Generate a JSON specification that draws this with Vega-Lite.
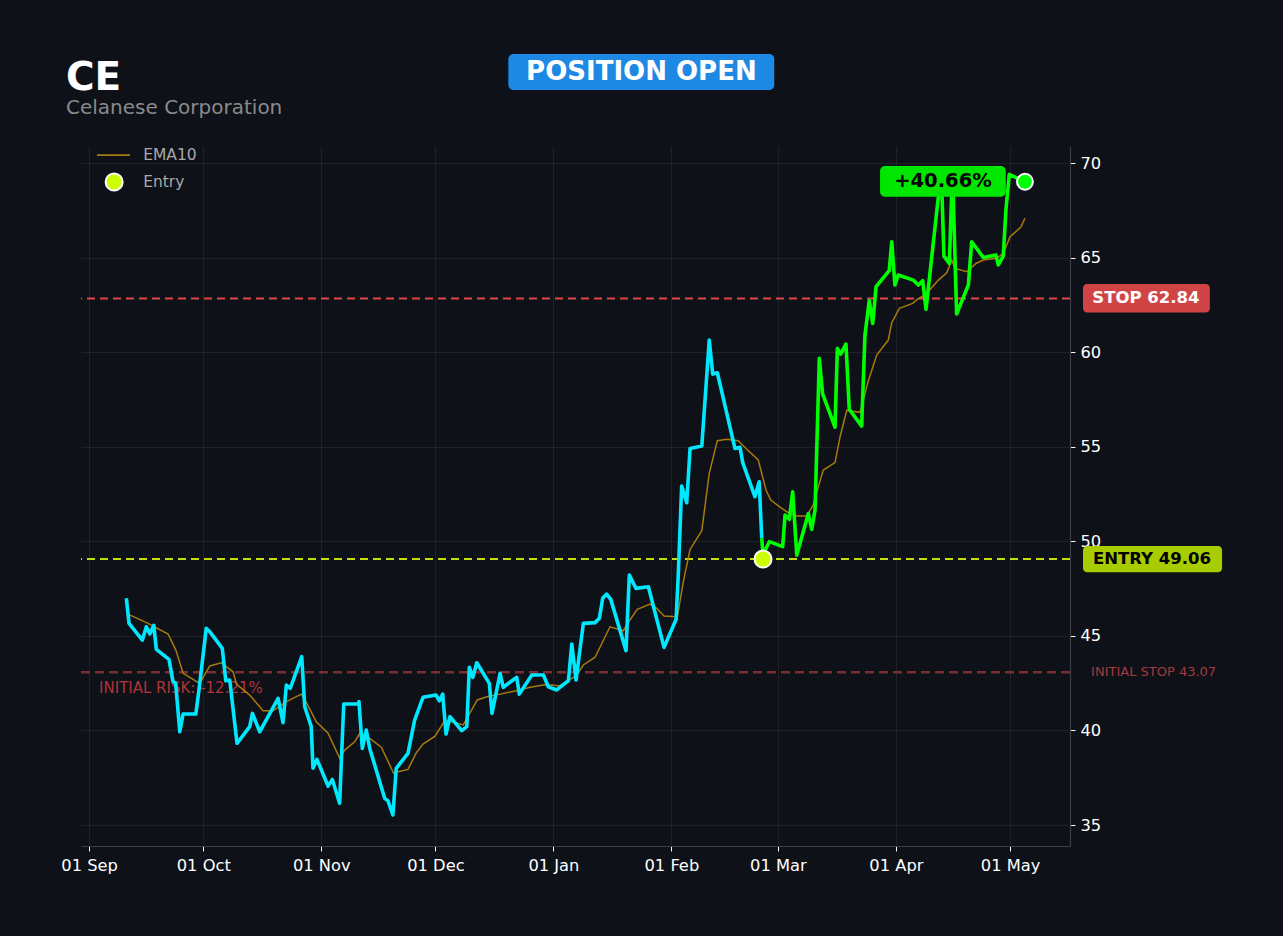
{
  "$schema": "https://vega.github.io/schema/vega-lite/v6.json",
  "autosize": {"type": "none"},
  "width": 989,
  "height": 700,
  "padding": {"left": 81, "top": 146, "right": 213, "bottom": 90},
  "background": "#0e1117",
  "title": {
    "text": "CE",
    "subtitle": "Celanese Corporation",
    "anchor": "start",
    "frame": "group",
    "font": "DejaVu Sans",
    "fontSize": 39,
    "fontWeight": "bold",
    "color": "#ffffff",
    "subtitleFont": "DejaVu Sans",
    "subtitleFontSize": 20,
    "subtitleColor": "#8a8a8a",
    "subtitlePadding": 0,
    "dx": -15,
    "dy": 94,
    "offset": 30
  },
  "resolve": {"axis": {"x": "independent", "y": "independent"}},
  "config": {
    "view": {"stroke": null},
    "font": "DejaVu Sans",
    "axis": {
      "labelFont": "DejaVu Sans",
      "labelColor": "#ffffff",
      "labelFontSize": 16.3,
      "tickColor": "#ffffff",
      "tickSize": 5,
      "gridColor": "#ffffff",
      "gridOpacity": 0.07,
      "domainColor": "#3b3f47",
      "domainWidth": 1.2
    }
  },
  "datasets": {
    "price": [
      {"date": "2025-09-10T19:00", "close": 46.99, "phase": "pre"},
      {"date": "2025-09-11T12:00", "close": 45.66, "phase": "pre"},
      {"date": "2025-09-15T00:00", "close": 44.78, "phase": "pre"},
      {"date": "2025-09-16T01:00", "close": 45.48, "phase": "pre"},
      {"date": "2025-09-16T23:00", "close": 45.10, "phase": "pre"},
      {"date": "2025-09-18T00:00", "close": 45.56, "phase": "pre"},
      {"date": "2025-09-18T16:00", "close": 44.29, "phase": "pre"},
      {"date": "2025-09-22T00:00", "close": 43.76, "phase": "pre"},
      {"date": "2025-09-23T01:00", "close": 42.58, "phase": "pre"},
      {"date": "2025-09-23T18:00", "close": 42.49, "phase": "pre"},
      {"date": "2025-09-24T20:00", "close": 39.93, "phase": "pre"},
      {"date": "2025-09-25T17:00", "close": 40.87, "phase": "pre"},
      {"date": "2025-09-29T01:00", "close": 40.87, "phase": "pre"},
      {"date": "2025-09-29T21:00", "close": 42.14, "phase": "pre"},
      {"date": "2025-10-01T19:00", "close": 45.40, "phase": "pre"},
      {"date": "2025-10-02T17:00", "close": 45.22, "phase": "pre"},
      {"date": "2025-10-06T00:00", "close": 44.34, "phase": "pre"},
      {"date": "2025-10-06T22:00", "close": 42.63, "phase": "pre"},
      {"date": "2025-10-07T23:00", "close": 42.66, "phase": "pre"},
      {"date": "2025-10-09T21:00", "close": 39.32, "phase": "pre"},
      {"date": "2025-10-13T05:00", "close": 40.20, "phase": "pre"},
      {"date": "2025-10-13T22:00", "close": 40.90, "phase": "pre"},
      {"date": "2025-10-15T20:00", "close": 39.93, "phase": "pre"},
      {"date": "2025-10-20T16:00", "close": 41.70, "phase": "pre"},
      {"date": "2025-10-21T23:00", "close": 40.41, "phase": "pre"},
      {"date": "2025-10-22T20:00", "close": 42.40, "phase": "pre"},
      {"date": "2025-10-23T21:00", "close": 42.23, "phase": "pre"},
      {"date": "2025-10-26T21:00", "close": 43.90, "phase": "pre"},
      {"date": "2025-10-27T16:00", "close": 41.25, "phase": "pre"},
      {"date": "2025-10-29T09:00", "close": 40.20, "phase": "pre"},
      {"date": "2025-10-29T20:00", "close": 38.00, "phase": "pre"},
      {"date": "2025-10-30T21:00", "close": 38.47, "phase": "pre"},
      {"date": "2025-11-02T19:00", "close": 37.06, "phase": "pre"},
      {"date": "2025-11-03T22:00", "close": 37.41, "phase": "pre"},
      {"date": "2025-11-05T20:00", "close": 36.15, "phase": "pre"},
      {"date": "2025-11-06T22:00", "close": 41.40, "phase": "pre"},
      {"date": "2025-11-10T16:00", "close": 41.40, "phase": "pre"},
      {"date": "2025-11-10T22:00", "close": 41.52, "phase": "pre"},
      {"date": "2025-11-11T19:00", "close": 39.05, "phase": "pre"},
      {"date": "2025-11-12T20:00", "close": 40.02, "phase": "pre"},
      {"date": "2025-11-13T18:00", "close": 39.05, "phase": "pre"},
      {"date": "2025-11-17T16:00", "close": 36.41, "phase": "pre"},
      {"date": "2025-11-18T13:00", "close": 36.28, "phase": "pre"},
      {"date": "2025-11-19T20:00", "close": 35.53, "phase": "pre"},
      {"date": "2025-11-20T17:00", "close": 38.00, "phase": "pre"},
      {"date": "2025-11-23T19:00", "close": 38.79, "phase": "pre"},
      {"date": "2025-11-25T13:00", "close": 40.55, "phase": "pre"},
      {"date": "2025-11-27T18:00", "close": 41.75, "phase": "pre"},
      {"date": "2025-12-01T04:00", "close": 41.87, "phase": "pre"},
      {"date": "2025-12-02T01:00", "close": 41.57, "phase": "pre"},
      {"date": "2025-12-02T22:00", "close": 41.92, "phase": "pre"},
      {"date": "2025-12-03T19:00", "close": 39.81, "phase": "pre"},
      {"date": "2025-12-04T20:00", "close": 40.73, "phase": "pre"},
      {"date": "2025-12-07T22:00", "close": 39.99, "phase": "pre"},
      {"date": "2025-12-09T06:00", "close": 40.20, "phase": "pre"},
      {"date": "2025-12-09T22:00", "close": 43.34, "phase": "pre"},
      {"date": "2025-12-10T20:00", "close": 42.81, "phase": "pre"},
      {"date": "2025-12-11T21:00", "close": 43.58, "phase": "pre"},
      {"date": "2025-12-15T04:00", "close": 42.49, "phase": "pre"},
      {"date": "2025-12-15T21:00", "close": 40.90, "phase": "pre"},
      {"date": "2025-12-18T00:00", "close": 43.02, "phase": "pre"},
      {"date": "2025-12-18T20:00", "close": 42.28, "phase": "pre"},
      {"date": "2025-12-22T09:00", "close": 42.81, "phase": "pre"},
      {"date": "2025-12-23T01:00", "close": 41.92, "phase": "pre"},
      {"date": "2025-12-26T08:00", "close": 42.93, "phase": "pre"},
      {"date": "2025-12-29T09:00", "close": 42.93, "phase": "pre"},
      {"date": "2025-12-30T16:00", "close": 42.31, "phase": "pre"},
      {"date": "2026-01-01T21:00", "close": 42.14, "phase": "pre"},
      {"date": "2026-01-04T23:00", "close": 42.63, "phase": "pre"},
      {"date": "2026-01-05T20:00", "close": 44.57, "phase": "pre"},
      {"date": "2026-01-06T23:00", "close": 42.67, "phase": "pre"},
      {"date": "2026-01-08T21:00", "close": 45.66, "phase": "pre"},
      {"date": "2026-01-11T23:00", "close": 45.70, "phase": "pre"},
      {"date": "2026-01-13T02:00", "close": 45.93, "phase": "pre"},
      {"date": "2026-01-13T23:00", "close": 46.99, "phase": "pre"},
      {"date": "2026-01-15T00:00", "close": 47.21, "phase": "pre"},
      {"date": "2026-01-16T02:00", "close": 46.93, "phase": "pre"},
      {"date": "2026-01-20T02:00", "close": 44.22, "phase": "pre"},
      {"date": "2026-01-20T23:00", "close": 48.22, "phase": "pre"},
      {"date": "2026-01-22T17:00", "close": 47.51, "phase": "pre"},
      {"date": "2026-01-25T23:00", "close": 47.60, "phase": "pre"},
      {"date": "2026-01-30T02:00", "close": 44.39, "phase": "pre"},
      {"date": "2026-02-02T06:00", "close": 45.88, "phase": "pre"},
      {"date": "2026-02-02T20:00", "close": 48.31, "phase": "pre"},
      {"date": "2026-02-03T17:00", "close": 52.92, "phase": "pre"},
      {"date": "2026-02-05T01:00", "close": 52.04, "phase": "pre"},
      {"date": "2026-02-05T22:00", "close": 54.91, "phase": "pre"},
      {"date": "2026-02-09T00:00", "close": 55.04, "phase": "pre"},
      {"date": "2026-02-10T23:00", "close": 60.64, "phase": "pre"},
      {"date": "2026-02-11T21:00", "close": 58.84, "phase": "pre"},
      {"date": "2026-02-13T02:00", "close": 58.91, "phase": "pre"},
      {"date": "2026-02-17T17:00", "close": 54.91, "phase": "pre"},
      {"date": "2026-02-19T01:00", "close": 54.97, "phase": "pre"},
      {"date": "2026-02-19T18:00", "close": 54.16, "phase": "pre"},
      {"date": "2026-02-22T23:00", "close": 52.36, "phase": "pre"},
      {"date": "2026-02-24T02:00", "close": 53.15, "phase": "pre"},
      {"date": "2026-02-24T18:00", "close": 50.16, "phase": "pre"},
      {"date": "2026-02-24T18:00", "close": 50.16, "phase": "post"},
      {"date": "2026-02-25T02:00", "close": 49.30, "phase": "post"},
      {"date": "2026-02-26T18:00", "close": 49.98, "phase": "post"},
      {"date": "2026-03-02T06:00", "close": 49.72, "phase": "post"},
      {"date": "2026-03-02T21:00", "close": 51.39, "phase": "post"},
      {"date": "2026-03-04T00:00", "close": 51.16, "phase": "post"},
      {"date": "2026-03-04T21:00", "close": 52.62, "phase": "post"},
      {"date": "2026-03-05T23:00", "close": 49.27, "phase": "post"},
      {"date": "2026-03-09T00:00", "close": 51.47, "phase": "post"},
      {"date": "2026-03-09T21:00", "close": 50.63, "phase": "post"},
      {"date": "2026-03-10T18:00", "close": 51.65, "phase": "post"},
      {"date": "2026-03-11T21:00", "close": 59.67, "phase": "post"},
      {"date": "2026-03-12T18:00", "close": 57.79, "phase": "post"},
      {"date": "2026-03-16T00:00", "close": 56.03, "phase": "post"},
      {"date": "2026-03-16T15:00", "close": 60.20, "phase": "post"},
      {"date": "2026-03-17T12:00", "close": 59.90, "phase": "post"},
      {"date": "2026-03-18T21:00", "close": 60.43, "phase": "post"},
      {"date": "2026-03-19T18:00", "close": 56.98, "phase": "post"},
      {"date": "2026-03-23T00:00", "close": 56.09, "phase": "post"},
      {"date": "2026-03-23T21:00", "close": 60.91, "phase": "post"},
      {"date": "2026-03-25T00:00", "close": 62.72, "phase": "post"},
      {"date": "2026-03-25T22:00", "close": 61.52, "phase": "post"},
      {"date": "2026-03-26T19:00", "close": 63.46, "phase": "post"},
      {"date": "2026-03-30T06:00", "close": 64.31, "phase": "post"},
      {"date": "2026-03-30T22:00", "close": 65.84, "phase": "post"},
      {"date": "2026-03-31T18:00", "close": 63.55, "phase": "post"},
      {"date": "2026-04-01T15:00", "close": 64.08, "phase": "post"},
      {"date": "2026-04-05T14:00", "close": 63.81, "phase": "post"},
      {"date": "2026-04-06T22:00", "close": 63.55, "phase": "post"},
      {"date": "2026-04-08T01:00", "close": 63.78, "phase": "post"},
      {"date": "2026-04-08T22:00", "close": 62.27, "phase": "post"},
      {"date": "2026-04-12T22:00", "close": 69.60, "phase": "post"},
      {"date": "2026-04-13T15:00", "close": 65.08, "phase": "post"},
      {"date": "2026-04-15T01:00", "close": 64.69, "phase": "post"},
      {"date": "2026-04-15T21:00", "close": 69.60, "phase": "post"},
      {"date": "2026-04-16T23:00", "close": 62.02, "phase": "post"},
      {"date": "2026-04-20T01:00", "close": 63.55, "phase": "post"},
      {"date": "2026-04-20T22:00", "close": 65.84, "phase": "post"},
      {"date": "2026-04-23T23:00", "close": 65.01, "phase": "post"},
      {"date": "2026-04-27T07:00", "close": 65.13, "phase": "post"},
      {"date": "2026-04-27T22:00", "close": 64.61, "phase": "post"},
      {"date": "2026-04-29T05:00", "close": 65.08, "phase": "post"},
      {"date": "2026-04-29T22:00", "close": 67.52, "phase": "post"},
      {"date": "2026-04-30T19:00", "close": 69.40, "phase": "post"},
      {"date": "2026-05-04T22:00", "close": 69.01, "phase": "post"}
    ],
    "ema": [
      {"date": "2025-09-10T19:00", "ema": 46.19},
      {"date": "2025-09-16T12:00", "ema": 45.66},
      {"date": "2025-09-21T18:00", "ema": 45.10},
      {"date": "2025-09-23T19:00", "ema": 44.25},
      {"date": "2025-09-25T17:00", "ema": 43.02},
      {"date": "2025-09-30T02:00", "ema": 42.49},
      {"date": "2025-10-02T17:00", "ema": 43.41},
      {"date": "2025-10-05T18:00", "ema": 43.58},
      {"date": "2025-10-08T20:00", "ema": 43.10},
      {"date": "2025-10-09T17:00", "ema": 42.45},
      {"date": "2025-10-13T05:00", "ema": 41.87},
      {"date": "2025-10-16T17:00", "ema": 41.04},
      {"date": "2025-10-19T08:00", "ema": 41.04},
      {"date": "2025-10-22T20:00", "ema": 41.52},
      {"date": "2025-10-26T19:00", "ema": 41.92},
      {"date": "2025-10-27T23:00", "ema": 41.52},
      {"date": "2025-10-30T17:00", "ema": 40.46},
      {"date": "2025-11-02T19:00", "ema": 39.85},
      {"date": "2025-11-05T21:00", "ema": 38.52},
      {"date": "2025-11-07T04:00", "ema": 38.96},
      {"date": "2025-11-09T19:00", "ema": 39.40},
      {"date": "2025-11-11T03:00", "ema": 39.85},
      {"date": "2025-11-13T18:00", "ema": 39.58},
      {"date": "2025-11-16T19:00", "ema": 39.11},
      {"date": "2025-11-20T01:00", "ema": 37.73},
      {"date": "2025-11-21T05:00", "ema": 37.82},
      {"date": "2025-11-23T19:00", "ema": 37.94},
      {"date": "2025-11-26T00:00", "ema": 38.82},
      {"date": "2025-11-27T18:00", "ema": 39.28},
      {"date": "2025-11-30T22:00", "ema": 39.70},
      {"date": "2025-12-03T13:00", "ema": 40.55},
      {"date": "2025-12-05T07:00", "ema": 40.46},
      {"date": "2025-12-08T08:00", "ema": 40.29},
      {"date": "2025-12-12T00:00", "ema": 41.61},
      {"date": "2025-12-14T12:00", "ema": 41.78},
      {"date": "2025-12-18T00:00", "ema": 41.92},
      {"date": "2025-12-22T09:00", "ema": 42.10},
      {"date": "2025-12-25T21:00", "ema": 42.28},
      {"date": "2025-12-29T09:00", "ema": 42.40},
      {"date": "2025-12-31T14:00", "ema": 42.40},
      {"date": "2026-01-02T14:00", "ema": 42.35},
      {"date": "2026-01-04T23:00", "ema": 42.63},
      {"date": "2026-01-07T03:00", "ema": 42.93},
      {"date": "2026-01-08T21:00", "ema": 43.46},
      {"date": "2026-01-11T23:00", "ema": 43.87},
      {"date": "2026-01-13T23:00", "ema": 44.69},
      {"date": "2026-01-15T21:00", "ema": 45.48},
      {"date": "2026-01-19T09:00", "ema": 45.27},
      {"date": "2026-01-21T03:00", "ema": 45.84},
      {"date": "2026-01-23T01:00", "ema": 46.40},
      {"date": "2026-01-26T10:00", "ema": 46.68},
      {"date": "2026-01-28T04:00", "ema": 46.46},
      {"date": "2026-01-30T02:00", "ema": 46.05},
      {"date": "2026-02-02T14:00", "ema": 46.01},
      {"date": "2026-02-04T04:00", "ema": 47.90},
      {"date": "2026-02-05T22:00", "ema": 49.57},
      {"date": "2026-02-09T00:00", "ema": 50.56},
      {"date": "2026-02-10T23:00", "ema": 53.59},
      {"date": "2026-02-13T02:00", "ema": 55.32},
      {"date": "2026-02-15T13:00", "ema": 55.39},
      {"date": "2026-02-18T14:00", "ema": 55.32},
      {"date": "2026-02-20T15:00", "ema": 54.91},
      {"date": "2026-02-23T20:00", "ema": 54.30},
      {"date": "2026-02-25T21:00", "ema": 52.71},
      {"date": "2026-02-27T03:00", "ema": 52.18},
      {"date": "2026-03-02T00:00", "ema": 51.74},
      {"date": "2026-03-03T18:00", "ema": 51.51},
      {"date": "2026-03-05T23:00", "ema": 51.34},
      {"date": "2026-03-08T14:00", "ema": 51.34},
      {"date": "2026-03-10T07:00", "ema": 51.92},
      {"date": "2026-03-11T15:00", "ema": 52.89},
      {"date": "2026-03-12T22:00", "ema": 53.77},
      {"date": "2026-03-16T00:00", "ema": 54.16},
      {"date": "2026-03-17T08:00", "ema": 55.53},
      {"date": "2026-03-19T02:00", "ema": 56.92},
      {"date": "2026-03-22T14:00", "ema": 56.82},
      {"date": "2026-03-24T18:00", "ema": 58.48},
      {"date": "2026-03-26T23:00", "ema": 59.85},
      {"date": "2026-03-30T00:00", "ema": 60.64},
      {"date": "2026-03-30T22:00", "ema": 61.56},
      {"date": "2026-04-01T22:00", "ema": 62.32},
      {"date": "2026-04-05T10:00", "ema": 62.58},
      {"date": "2026-04-06T15:00", "ema": 62.79},
      {"date": "2026-04-08T22:00", "ema": 63.07},
      {"date": "2026-04-12T04:00", "ema": 63.81},
      {"date": "2026-04-14T09:00", "ema": 64.20},
      {"date": "2026-04-15T16:00", "ema": 64.87},
      {"date": "2026-04-16T13:00", "ema": 64.43},
      {"date": "2026-04-19T15:00", "ema": 64.25},
      {"date": "2026-04-22T01:00", "ema": 64.69},
      {"date": "2026-04-23T23:00", "ema": 64.87},
      {"date": "2026-04-27T12:00", "ema": 64.96},
      {"date": "2026-04-29T05:00", "ema": 65.22},
      {"date": "2026-05-01T00:00", "ema": 66.10},
      {"date": "2026-05-03T19:00", "ema": 66.60},
      {"date": "2026-05-04T22:00", "ema": 67.08}
    ],
    "entry": [{"date": "2026-02-25T02:00", "price": 49.06}],
    "current": [{"date": "2026-05-04T22:00", "price": 69.01}],
    "initialStop": [{"price": 43.07, "label": "INITIAL STOP 43.07"}],
    "stop": [{"price": 62.84, "label": "STOP 62.84"}],
    "entryLevel": [{"price": 49.06, "label": "ENTRY 49.06"}],
    "risk": [{"price": 43.07, "label": "INITIAL RISK: -12.21%"}],
    "gain": [{"label": "+40.66%"}],
    "status": [{"label": "POSITION OPEN"}],
    "legendEma": [{"label": "EMA10"}],
    "legendEntry": [{"label": "Entry"}]
  },
  "layer": [
    {
      "data": {"name": "price"},
      "mark": {"type": "line", "strokeWidth": 3.6, "strokeJoin": "round", "opacity": 0},
      "encoding": {
        "x": {
          "field": "date", "type": "temporal",
          "scale": {"domain": [{"year": 2025, "month": 8, "date": 29, "hours": 21}, {"year": 2026, "month": 5, "date": 16, "hours": 18}]},
          "axis": {
            "title": null, "orient": "bottom", "format": "%d %b", "grid": true, "labelPadding": 6, "labelFlush": false, "labelFontSize": 16.3,
            "values": [
              {"year": 2025, "month": 9, "date": 1},
              {"year": 2025, "month": 10, "date": 1},
              {"year": 2025, "month": 11, "date": 1},
              {"year": 2025, "month": 12, "date": 1},
              {"year": 2026, "month": 1, "date": 1},
              {"year": 2026, "month": 2, "date": 1},
              {"year": 2026, "month": 3, "date": 1},
              {"year": 2026, "month": 4, "date": 1},
              {"year": 2026, "month": 5, "date": 1}
            ]
          }
        },
        "y": {
          "field": "close", "type": "quantitative",
          "scale": {"domain": [33.89, 70.9], "nice": false, "zero": false},
          "axis": {"title": null, "orient": "right", "values": [35, 40, 45, 50, 55, 60, 65, 70], "grid": true, "labelPadding": 5, "labelFontSize": 16.3}
        }
      }
    },
    {
      "data": {"name": "initialStop"},
      "mark": {"type": "rule", "color": "#7d2c31", "strokeWidth": 2.5, "strokeDash": [9, 5]},
      "encoding": {
        "y": {"field": "price", "type": "quantitative", "scale": {"domain": [33.89, 70.9], "nice": false, "zero": false}, "axis": null}
      }
    },
    {
      "data": {"name": "stop"},
      "mark": {"type": "rule", "color": "#e0474a", "strokeWidth": 2, "strokeDash": [8, 5]},
      "encoding": {
        "y": {"field": "price", "type": "quantitative", "scale": {"domain": [33.89, 70.9], "nice": false, "zero": false}, "axis": null}
      }
    },
    {
      "data": {"name": "entryLevel"},
      "mark": {"type": "rule", "color": "#c4df0a", "strokeWidth": 2, "strokeDash": [8, 5]},
      "encoding": {
        "y": {"field": "price", "type": "quantitative", "scale": {"domain": [33.89, 70.9], "nice": false, "zero": false}, "axis": null}
      }
    },
    {
      "data": {"name": "risk"},
      "mark": {"type": "text", "align": "left", "baseline": "middle", "font": "DejaVu Sans", "fontSize": 15, "color": "#c0393f", "opacity": 0.9, "dy": 16},
      "encoding": {
        "x": {"datum": {"year": 2025, "month": 9, "date": 3, "hours": 15}, "type": "temporal", "scale": {"domain": [{"year": 2025, "month": 8, "date": 29, "hours": 21}, {"year": 2026, "month": 5, "date": 16, "hours": 18}]}, "axis": null},
        "y": {"field": "price", "type": "quantitative", "scale": {"domain": [33.89, 70.9], "nice": false, "zero": false}, "axis": null},
        "text": {"field": "label"}
      }
    },
    {
      "data": {"name": "ema"},
      "mark": {"type": "line", "color": "#b8860b", "strokeWidth": 1.5, "opacity": 0.9},
      "encoding": {
        "x": {"field": "date", "type": "temporal", "scale": {"domain": [{"year": 2025, "month": 8, "date": 29, "hours": 21}, {"year": 2026, "month": 5, "date": 16, "hours": 18}]}, "axis": null},
        "y": {"field": "ema", "type": "quantitative", "scale": {"domain": [33.89, 70.9], "nice": false, "zero": false}, "axis": null}
      }
    },
    {
      "data": {"name": "price"},
      "mark": {"type": "line", "strokeWidth": 3.6, "strokeJoin": "round"},
      "encoding": {
        "x": {"field": "date", "type": "temporal", "scale": {"domain": [{"year": 2025, "month": 8, "date": 29, "hours": 21}, {"year": 2026, "month": 5, "date": 16, "hours": 18}]}, "axis": null},
        "y": {"field": "close", "type": "quantitative", "scale": {"domain": [33.89, 70.9], "nice": false, "zero": false}, "axis": null},
        "color": {"field": "phase", "type": "nominal", "scale": {"domain": ["pre", "post"], "range": ["#00e8ff", "#00ff00"]}, "legend": null}
      }
    },
    {
      "data": {"name": "entry"},
      "mark": {"type": "point", "shape": "circle", "filled": true, "fill": "#ccff00", "stroke": "#ffffff", "strokeWidth": 2, "size": 290, "opacity": 1},
      "encoding": {
        "x": {"field": "date", "type": "temporal", "scale": {"domain": [{"year": 2025, "month": 8, "date": 29, "hours": 21}, {"year": 2026, "month": 5, "date": 16, "hours": 18}]}, "axis": null},
        "y": {"field": "price", "type": "quantitative", "scale": {"domain": [33.89, 70.9], "nice": false, "zero": false}, "axis": null}
      }
    },
    {
      "data": {"name": "current"},
      "mark": {"type": "point", "shape": "circle", "filled": true, "fill": "#00ff00", "stroke": "#ffffff", "strokeWidth": 2, "size": 250, "opacity": 1},
      "encoding": {
        "x": {"field": "date", "type": "temporal", "scale": {"domain": [{"year": 2025, "month": 8, "date": 29, "hours": 21}, {"year": 2026, "month": 5, "date": 16, "hours": 18}]}, "axis": null},
        "y": {"field": "price", "type": "quantitative", "scale": {"domain": [33.89, 70.9], "nice": false, "zero": false}, "axis": null}
      }
    },
    {
      "data": {"name": "initialStop"},
      "mark": {"type": "text", "align": "left", "baseline": "middle", "font": "DejaVu Sans", "fontSize": 13, "color": "#a63a3d"},
      "encoding": {
        "x": {"datum": {"year": 2026, "month": 5, "date": 22, "hours": 7}, "type": "temporal", "scale": {"domain": [{"year": 2025, "month": 8, "date": 29, "hours": 21}, {"year": 2026, "month": 5, "date": 16, "hours": 18}]}, "axis": null},
        "y": {"field": "price", "type": "quantitative", "scale": {"domain": [33.89, 70.9], "nice": false, "zero": false}, "axis": null},
        "text": {"field": "label"}
      }
    },
    {
      "data": {"name": "stop"},
      "mark": {"type": "rect", "color": "#d14446", "cornerRadius": 4},
      "encoding": {
        "x": {"datum": {"year": 2026, "month": 5, "date": 20, "hours": 4}, "type": "temporal", "scale": {"domain": [{"year": 2025, "month": 8, "date": 29, "hours": 21}, {"year": 2026, "month": 5, "date": 16, "hours": 18}]}, "axis": null},
        "x2": {"datum": {"year": 2026, "month": 6, "date": 22, "hours": 12}},
        "y": {"datum": 63.60, "type": "quantitative", "scale": {"domain": [33.89, 70.9], "nice": false, "zero": false}, "axis": null},
        "y2": {"datum": 62.10}
      }
    },
    {
      "data": {"name": "stop"},
      "mark": {"type": "text", "align": "center", "baseline": "middle", "font": "DejaVu Sans", "fontSize": 16.5, "fontWeight": "bold", "color": "#ffffff"},
      "encoding": {
        "x": {"datum": {"year": 2026, "month": 6, "date": 5, "hours": 17}, "type": "temporal", "scale": {"domain": [{"year": 2025, "month": 8, "date": 29, "hours": 21}, {"year": 2026, "month": 5, "date": 16, "hours": 18}]}, "axis": null},
        "y": {"field": "price", "type": "quantitative", "scale": {"domain": [33.89, 70.9], "nice": false, "zero": false}, "axis": null},
        "text": {"field": "label"}
      }
    },
    {
      "data": {"name": "entryLevel"},
      "mark": {"type": "rect", "color": "#a8cc00", "cornerRadius": 4},
      "encoding": {
        "x": {"datum": {"year": 2026, "month": 5, "date": 20, "hours": 4}, "type": "temporal", "scale": {"domain": [{"year": 2025, "month": 8, "date": 29, "hours": 21}, {"year": 2026, "month": 5, "date": 16, "hours": 18}]}, "axis": null},
        "x2": {"datum": {"year": 2026, "month": 6, "date": 25, "hours": 17}},
        "y": {"datum": 49.75, "type": "quantitative", "scale": {"domain": [33.89, 70.9], "nice": false, "zero": false}, "axis": null},
        "y2": {"datum": 48.36}
      }
    },
    {
      "data": {"name": "entryLevel"},
      "mark": {"type": "text", "align": "center", "baseline": "middle", "font": "DejaVu Sans", "fontSize": 16.5, "fontWeight": "bold", "color": "#000000"},
      "encoding": {
        "x": {"datum": {"year": 2026, "month": 6, "date": 7, "hours": 7}, "type": "temporal", "scale": {"domain": [{"year": 2025, "month": 8, "date": 29, "hours": 21}, {"year": 2026, "month": 5, "date": 16, "hours": 18}]}, "axis": null},
        "y": {"field": "price", "type": "quantitative", "scale": {"domain": [33.89, 70.9], "nice": false, "zero": false}, "axis": null},
        "text": {"field": "label"}
      }
    },
    {
      "data": {"name": "gain"},
      "mark": {"type": "rect", "color": "#00e600", "cornerRadius": 5},
      "encoding": {
        "x": {"datum": {"year": 2026, "month": 3, "date": 27, "hours": 20}, "type": "temporal", "scale": {"domain": [{"year": 2025, "month": 8, "date": 29, "hours": 21}, {"year": 2026, "month": 5, "date": 16, "hours": 18}]}, "axis": null},
        "x2": {"datum": {"year": 2026, "month": 4, "date": 29, "hours": 21}},
        "y": {"datum": 69.84, "type": "quantitative", "scale": {"domain": [33.89, 70.9], "nice": false, "zero": false}, "axis": null},
        "y2": {"datum": 68.22}
      }
    },
    {
      "data": {"name": "gain"},
      "mark": {"type": "text", "align": "center", "baseline": "middle", "font": "DejaVu Sans", "fontSize": 19.5, "fontWeight": "bold", "color": "#000000"},
      "encoding": {
        "x": {"datum": {"year": 2026, "month": 4, "date": 13, "hours": 9}, "type": "temporal", "scale": {"domain": [{"year": 2025, "month": 8, "date": 29, "hours": 21}, {"year": 2026, "month": 5, "date": 16, "hours": 18}]}, "axis": null},
        "y": {"datum": 69.03, "type": "quantitative", "scale": {"domain": [33.89, 70.9], "nice": false, "zero": false}, "axis": null},
        "text": {"field": "label"}
      }
    },
    {
      "data": {"name": "status"},
      "mark": {"type": "rect", "color": "#1e88e5", "cornerRadius": 5},
      "encoding": {
        "x": {"datum": {"year": 2025, "month": 12, "date": 20, "hours": 4}, "type": "temporal", "scale": {"domain": [{"year": 2025, "month": 8, "date": 29, "hours": 21}, {"year": 2026, "month": 5, "date": 16, "hours": 18}]}, "axis": null},
        "x2": {"datum": {"year": 2026, "month": 2, "date": 28, "hours": 1}},
        "y": {"datum": 75.76, "type": "quantitative", "scale": {"domain": [33.89, 70.9], "nice": false, "zero": false}, "axis": null},
        "y2": {"datum": 73.86}
      }
    },
    {
      "data": {"name": "status"},
      "mark": {"type": "text", "align": "center", "baseline": "middle", "font": "DejaVu Sans", "fontSize": 26, "fontWeight": "bold", "color": "#ffffff"},
      "encoding": {
        "x": {"datum": {"year": 2026, "month": 1, "date": 24, "hours": 3}, "type": "temporal", "scale": {"domain": [{"year": 2025, "month": 8, "date": 29, "hours": 21}, {"year": 2026, "month": 5, "date": 16, "hours": 18}]}, "axis": null},
        "y": {"datum": 74.81, "type": "quantitative", "scale": {"domain": [33.89, 70.9], "nice": false, "zero": false}, "axis": null},
        "text": {"field": "label"}
      }
    },
    {
      "data": {"name": "legendEma"},
      "mark": {"type": "rule", "color": "#b8860b", "strokeWidth": 1.6, "opacity": 0.9},
      "encoding": {
        "x": {"datum": {"year": 2025, "month": 9, "date": 3, "hours": 2}, "type": "temporal", "scale": {"domain": [{"year": 2025, "month": 8, "date": 29, "hours": 21}, {"year": 2026, "month": 5, "date": 16, "hours": 18}]}, "axis": null},
        "x2": {"datum": {"year": 2025, "month": 9, "date": 11, "hours": 18}},
        "y": {"datum": 70.42, "type": "quantitative", "scale": {"domain": [33.89, 70.9], "nice": false, "zero": false}, "axis": null}
      }
    },
    {
      "data": {"name": "legendEma"},
      "mark": {"type": "text", "align": "left", "baseline": "middle", "font": "DejaVu Sans", "fontSize": 15.5, "color": "#a8a8a8"},
      "encoding": {
        "x": {"datum": {"year": 2025, "month": 9, "date": 15, "hours": 5}, "type": "temporal", "scale": {"domain": [{"year": 2025, "month": 8, "date": 29, "hours": 21}, {"year": 2026, "month": 5, "date": 16, "hours": 18}]}, "axis": null},
        "y": {"datum": 70.42, "type": "quantitative", "scale": {"domain": [33.89, 70.9], "nice": false, "zero": false}, "axis": null},
        "text": {"field": "label"}
      }
    },
    {
      "data": {"name": "legendEntry"},
      "mark": {"type": "point", "shape": "circle", "filled": true, "fill": "#ccff00", "stroke": "#ffffff", "strokeWidth": 2, "size": 290, "opacity": 1},
      "encoding": {
        "x": {"datum": {"year": 2025, "month": 9, "date": 7, "hours": 14}, "type": "temporal", "scale": {"domain": [{"year": 2025, "month": 8, "date": 29, "hours": 21}, {"year": 2026, "month": 5, "date": 16, "hours": 18}]}, "axis": null},
        "y": {"datum": 69.0, "type": "quantitative", "scale": {"domain": [33.89, 70.9], "nice": false, "zero": false}, "axis": null}
      }
    },
    {
      "data": {"name": "legendEntry"},
      "mark": {"type": "text", "align": "left", "baseline": "middle", "font": "DejaVu Sans", "fontSize": 15.5, "color": "#a8a8a8"},
      "encoding": {
        "x": {"datum": {"year": 2025, "month": 9, "date": 15, "hours": 5}, "type": "temporal", "scale": {"domain": [{"year": 2025, "month": 8, "date": 29, "hours": 21}, {"year": 2026, "month": 5, "date": 16, "hours": 18}]}, "axis": null},
        "y": {"datum": 69.0, "type": "quantitative", "scale": {"domain": [33.89, 70.9], "nice": false, "zero": false}, "axis": null},
        "text": {"field": "label"}
      }
    }
  ]
}
